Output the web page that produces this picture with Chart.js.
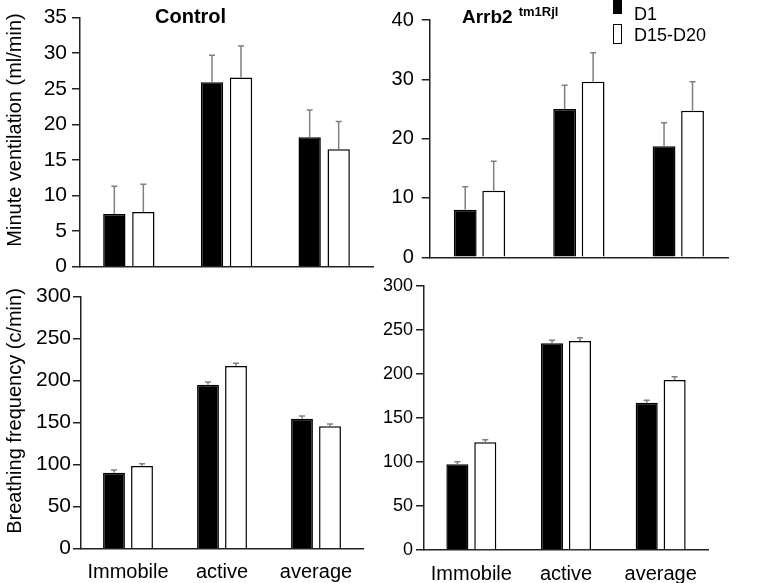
<!DOCTYPE html>
<html>
<head>
<meta charset="utf-8">
<script src="https://cdn.jsdelivr.net/npm/chart.js@4"></script>
<style>
  body { margin: 0; background: #fff; }
  #wrap { position: relative; width: 767px; height: 583px; font-family: "Liberation Sans", Arial, sans-serif; overflow: hidden; }
  #wrap canvas { position: absolute; left: 0; top: 0; }
  .lbl { position: absolute; white-space: nowrap; color: #000; line-height: 1; }
  .ytitle { position: absolute; white-space: nowrap; color: #000; font-size: 20px; line-height: 1;
            transform: translate(-50%, -50%) rotate(-90deg); }
  .box { position: absolute; width: 7px; box-sizing: content-box; border: 1.5px solid #000; }
</style>
</head>
<body>
<div id="wrap">
  <canvas id="c0" width="767" height="583"></canvas>
  <canvas id="c1" width="767" height="583"></canvas>
  <canvas id="c2" width="767" height="583"></canvas>
  <canvas id="c3" width="767" height="583"></canvas>

  <div class="ytitle" style="left:14px;top:130px">Minute ventilation (ml/min)</div>
  <div class="ytitle" style="left:14px;top:411px">Breathing frequency (c/min)</div>

  <div class="lbl" style="left:155px;top:6px;font-weight:bold;font-size:20px">Control</div>
  <div class="lbl" style="left:462px;top:7px;font-weight:bold;font-size:19px">Arrb2<span style="font-size:13px;position:relative;top:-7px;margin-left:6px">tm1Rjl</span></div>

  <div class="box" style="left:613px;top:-3px;height:15px;background:#000"></div>
  <div class="lbl" style="left:634px;top:5px;font-size:18px">D1</div>
  <div class="box" style="left:613px;top:24px;height:18px;background:#fff"></div>
  <div class="lbl" style="left:634px;top:26px;font-size:18px">D15-D20</div>
</div>

<script>
// categories and series
const categories = ['Immobile', 'active', 'average'];
const seriesNames = ['D1', 'D15-D20'];

// minute ventilation (ml/min), mean and SEM
const ventCtrlD1 = [7.4, 25.9, 18.2];
const ventCtrlD1Err = [3.9, 3.8, 3.8];
const ventCtrlD15 = [7.7, 26.6, 16.5];
const ventCtrlD15Err = [3.9, 4.4, 3.9];
const ventArrbD1 = [8.0, 25.0, 18.7];
const ventArrbD1Err = [3.9, 4.0, 4.0];
const ventArrbD15 = [11.2, 29.6, 24.7];
const ventArrbD15Err = [5.0, 4.9, 4.9];

// breathing frequency (c/min), mean and SEM
const freqCtrlD1 = [90.5, 195.2, 154.8];
const freqCtrlD1Err = [3.2, 3.3, 3.2];
const freqCtrlD15 = [98.5, 217.5, 145.7];
const freqCtrlD15Err = [2.7, 3.2, 2.8];
const freqArrbD1 = [97.3, 234.6, 167.2];
const freqArrbD1Err = [2.9, 3.4, 2.7];
const freqArrbD15 = [122.2, 237.2, 193.0];
const freqArrbD15Err = [3.0, 3.8, 3.7];

// axis ranges
const ventCtrlMax = 35, ventCtrlStep = 5;
const ventArrbMax = 40, ventArrbStep = 10;
const freqMax = 300, freqStep = 50;

const W = 767, H = 583, X_H = 34;
const FONT = '"Liberation Sans", Arial, sans-serif';

// draws the upward SEM whiskers
const errorBars = {
  id: 'errorBars',
  afterDatasetsDraw(chart) {
    const ctx = chart.ctx;
    const y = chart.scales.y;
    ctx.save();
    ctx.strokeStyle = '#808080';
    ctx.lineWidth = 1.5;
    chart.data.datasets.forEach((ds, i) => {
      chart.getDatasetMeta(i).data.forEach((bar, j) => {
        const top = y.getPixelForValue(ds.data[j] + ds.err[j]);
        ctx.beginPath();
        ctx.moveTo(bar.x, bar.y);
        ctx.lineTo(bar.x, top);
        ctx.moveTo(bar.x - 3, top);
        ctx.lineTo(bar.x + 3, top);
        ctx.stroke();
      });
    });
    ctx.restore();
  }
};

function makePanel(id, p) {
  const yW = p.left ? p.box.left : 50;
  new Chart(document.getElementById(id), {
    type: 'bar',
    data: {
      labels: categories,
      datasets: [
        { label: seriesNames[0], data: p.d1, err: p.e1, backgroundColor: '#000', borderColor: '#000', borderWidth: 1.5 },
        { label: seriesNames[1], data: p.d2, err: p.e2, backgroundColor: '#fff', borderColor: '#000', borderWidth: 1.5 }
      ]
    },
    options: {
      responsive: false,
      animation: false,
      layout: {
        padding: { left: p.box.left - yW, top: p.box.top, right: W - p.box.right, bottom: H - p.box.bottom - X_H }
      },
      datasets: { bar: { categoryPercentage: p.cp, barPercentage: p.bp } },
      plugins: { legend: { display: false }, tooltip: { enabled: false } },
      scales: {
        x: {
          grid: { display: false, drawTicks: false },
          border: { color: '#222', width: 1.5 },
          ticks: { display: p.showX, color: '#000', padding: 12, font: { family: FONT, size: 20 } },
          afterFit: s => { s.height = X_H; }
        },
        y: {
          min: 0,
          max: p.max,
          ticks: { stepSize: p.step, color: '#000', padding: p.tickPad, font: { family: FONT, size: p.tickSize } },
          grid: { drawOnChartArea: false, tickLength: 8, color: '#222', lineWidth: 1.5 },
          border: { color: '#222', width: 1.5 },
          afterFit: s => { s.width = yW; }
        }
      }
    },
    plugins: [errorBars]
  });
}

makePanel('c0', {
  box: { left: 80, top: 14, right: 373, bottom: 266.7 },
  d1: ventCtrlD1, e1: ventCtrlD1Err, d2: ventCtrlD15, e2: ventCtrlD15Err,
  max: ventCtrlMax, step: ventCtrlStep, cp: 0.594, bp: 0.77, tickPad: 5, tickSize: 21,
  left: true, showX: false
});
makePanel('c1', {
  box: { left: 429.75, top: 10, right: 728, bottom: 257.3 },
  d1: ventArrbD1, e1: ventArrbD1Err, d2: ventArrbD15, e2: ventArrbD15Err,
  max: ventArrbMax, step: ventArrbStep, cp: 0.573, bp: 0.8, tickPad: 8, tickSize: 20,
  left: false, showX: false
});
makePanel('c2', {
  box: { left: 81, top: 296.7, right: 363, bottom: 548.7 },
  d1: freqCtrlD1, e1: freqCtrlD1Err, d2: freqCtrlD15, e2: freqCtrlD15Err,
  max: freqMax, step: freqStep, cp: 0.596, bp: 0.78, tickPad: 2, tickSize: 21,
  left: true, showX: true
});
makePanel('c3', {
  box: { left: 424, top: 285.7, right: 708, bottom: 550 },
  d1: freqArrbD1, e1: freqArrbD1Err, d2: freqArrbD15, e2: freqArrbD15Err,
  max: freqMax, step: freqStep, cp: 0.59, bp: 0.79, tickPad: 3, tickSize: 18,
  left: false, showX: true
});
</script>
</body>
</html>
